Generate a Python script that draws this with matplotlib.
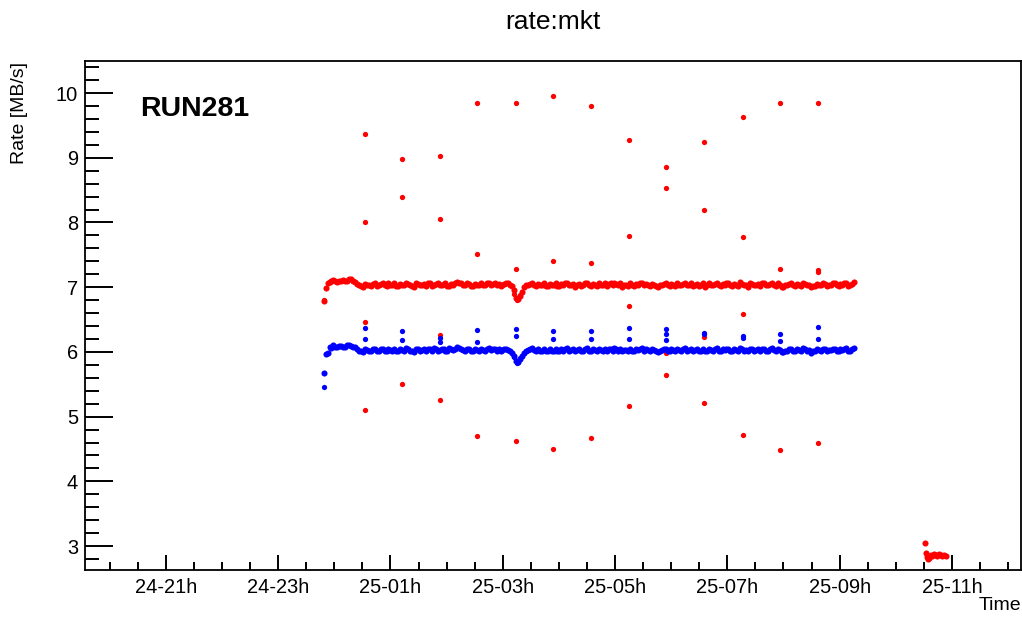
import numpy as np
import matplotlib
matplotlib.use("Agg")
import matplotlib.pyplot as plt
from matplotlib.ticker import FixedLocator, MultipleLocator, FuncFormatter

plt.rcParams['font.family'] = ['Liberation Sans', 'DejaVu Sans']

# ---------------- data (time in hours since 24-00h) ----------------
t_start = 23.81
t_step = 0.07

# readings on the regular sampling grid
red_a = [
    6.78, 7.06, 7.09, 7.10, 7.09, 7.11, 7.10, 7.12, 7.08, 7.03,
    7.01, 7.04, 7.02, 7.06, 7.03, 7.07, 7.02, 7.04, 7.06, 7.02,
    7.04, 7.07, 7.03, 7.01, 7.05, 7.04, 7.02, 7.06, 7.03, 7.07,
    7.04, 7.06, 7.02, 7.04, 7.08, 7.06, 7.03, 7.05, 7.02, 7.04,
    7.06, 7.03, 7.07, 7.05, 7.03, 7.02, 7.05, 7.07, 7.02, 6.84,
    6.87, 7.00, 7.04, 7.07, 7.02, 7.04, 7.06, 7.02, 7.04, 7.06,
    7.02, 7.04, 7.07, 7.03, 7.01, 7.05, 7.04, 7.07, 7.02, 7.04,
    7.06, 7.03, 7.02, 7.06, 7.07, 7.03, 7.01, 7.04, 7.06, 7.02,
    7.04, 7.07, 7.05, 7.02, 7.04, 7.00, 7.04, 7.06, 7.02, 7.04,
    7.06, 7.03, 7.07, 7.04, 7.02, 7.05, 7.04, 7.01, 7.06, 7.03,
    7.07, 7.02, 7.04, 7.06, 7.02, 7.04, 7.08, 7.03, 7.01, 7.05,
    7.04, 7.02, 7.06, 7.03, 7.07, 7.02, 7.04, 7.00, 7.03, 7.06,
    7.02, 7.04, 7.07, 7.03, 7.00, 7.02, 7.04, 7.06, 7.02, 7.04,
    7.06, 7.02, 7.04, 7.07, 7.03, 7.08,
]
# readings half a step later
red_b = [
    6.98, 7.08, 7.11, 7.08, 7.10, 7.09, 7.12, 7.10, 7.05, 7.02,
    7.05, 7.03, 7.05, 7.02, 7.05, 7.03, 7.06, 7.03, 7.02, 7.05,
    7.03, 7.05, 7.02, 7.06, 7.03, 7.05, 7.06, 7.02, 7.05, 7.03,
    7.05, 7.02, 7.05, 7.06, 7.07, 7.04, 7.06, 7.02, 7.05, 7.03,
    7.04, 7.06, 7.04, 7.06, 7.05, 7.04, 7.06, 7.04, 6.95, 6.82,
    6.93, 7.03, 7.05, 7.04, 7.05, 7.03, 7.02, 7.05, 7.03, 7.02,
    7.05, 7.06, 7.03, 7.05, 7.04, 7.02, 7.06, 7.03, 7.05, 7.02,
    7.04, 7.06, 7.05, 7.03, 7.05, 7.06, 7.04, 7.02, 7.03, 7.05,
    7.06, 7.03, 7.04, 7.05, 7.02, 7.03, 7.05, 7.03, 7.05, 7.02,
    7.04, 7.05, 7.03, 7.06, 7.04, 7.02, 7.06, 7.03, 7.04, 7.05,
    7.03, 7.05, 7.06, 7.03, 7.05, 7.02, 7.05, 7.04, 7.06, 7.03,
    7.05, 7.06, 7.03, 7.05, 7.04, 7.06, 7.01, 7.03, 7.05, 7.03,
    7.05, 7.02, 7.05, 7.04, 7.02, 7.05, 7.03, 7.05, 7.04, 7.06,
    7.03, 7.05, 7.06, 7.02, 7.05,
]

blue_a = [
    5.67, 5.98, 6.06, 6.08, 6.09, 6.08, 6.10, 6.09, 6.07, 6.02,
    6.00, 6.03, 6.01, 6.05, 6.02, 6.04, 6.01, 6.03, 6.05, 6.01,
    6.03, 6.06, 6.02, 6.00, 6.04, 6.03, 6.01, 6.05, 6.06, 6.02,
    6.04, 6.02, 6.06, 6.03, 6.07, 6.05, 6.02, 6.04, 6.01, 6.03,
    6.05, 6.02, 6.06, 6.04, 6.02, 6.01, 6.04, 6.03, 5.99, 5.86,
    5.89, 5.99, 6.03, 6.06, 6.02, 6.01, 6.04, 6.02, 6.01, 6.05,
    6.02, 6.01, 6.06, 6.03, 6.01, 6.04, 6.02, 6.06, 6.01, 6.03,
    6.05, 6.02, 6.01, 6.04, 6.06, 6.02, 6.01, 6.03, 6.05, 6.01,
    6.03, 6.06, 6.04, 6.01, 6.03, 6.00, 6.03, 6.05, 6.01, 6.03,
    6.05, 6.02, 6.06, 6.03, 6.01, 6.04, 6.02, 6.01, 6.05, 6.02,
    6.06, 6.01, 6.03, 6.05, 6.01, 6.03, 6.06, 6.02, 6.01, 6.04,
    6.03, 6.01, 6.05, 6.02, 6.06, 6.01, 6.03, 6.00, 6.02, 6.05,
    6.01, 6.03, 6.06, 6.02, 5.99, 6.01, 6.03, 6.05, 6.01, 6.03,
    6.05, 6.01, 6.03, 6.06, 6.02, 6.06,
]
blue_b = [
    5.97, 6.07, 6.10, 6.07, 6.09, 6.08, 6.10, 6.08, 6.04, 6.01,
    6.04, 6.02, 6.04, 6.01, 6.04, 6.02, 6.05, 6.02, 6.01, 6.04,
    6.02, 6.04, 6.01, 6.05, 6.02, 6.04, 6.05, 6.01, 6.04, 6.03,
    6.04, 6.01, 6.04, 6.05, 6.06, 6.03, 6.05, 6.01, 6.04, 6.02,
    6.03, 6.05, 6.03, 6.05, 6.04, 6.03, 6.05, 6.02, 5.93, 5.84,
    5.94, 6.02, 6.04, 6.03, 6.04, 6.02, 6.01, 6.04, 6.02, 6.01,
    6.04, 6.05, 6.02, 6.04, 6.03, 6.01, 6.05, 6.02, 6.04, 6.01,
    6.03, 6.05, 6.04, 6.02, 6.04, 6.05, 6.03, 6.01, 6.02, 6.04,
    6.05, 6.02, 6.03, 6.04, 6.01, 6.02, 6.04, 6.02, 6.04, 6.01,
    6.03, 6.04, 6.02, 6.05, 6.03, 6.01, 6.05, 6.02, 6.03, 6.04,
    6.02, 6.04, 6.05, 6.02, 6.04, 6.01, 6.04, 6.03, 6.05, 6.02,
    6.04, 6.05, 6.02, 6.04, 6.03, 6.05, 6.00, 6.02, 6.04, 6.02,
    6.04, 6.01, 6.04, 6.03, 6.01, 6.04, 6.02, 6.04, 6.03, 6.05,
    6.02, 6.04, 6.05, 6.01, 6.04,
]

# periodic outlier readings (time, value)
red_out_t = [
    23.82,
    24.54, 24.54, 24.54, 24.54,
    25.20, 25.20, 25.20,
    25.875, 25.875, 25.875, 25.875,
    26.55, 26.55, 26.55,
    27.20, 27.23, 27.23, 27.23, 27.25, 27.27, 27.30,
    27.89, 27.89, 27.89,
    28.58, 28.58, 28.58,
    29.24, 29.24, 29.24, 29.24,
    29.915, 29.915, 29.915, 29.915,
    30.59, 30.59, 30.59, 30.59,
    31.27, 31.27, 31.27, 31.27,
    31.94, 31.94, 31.94,
    32.62, 32.62, 32.62, 32.62,
]
red_out_v = [
    6.80,
    9.37, 8.01, 6.46, 5.10,
    8.98, 8.39, 5.50,
    9.03, 8.05, 6.26, 5.26,
    9.85, 7.51, 4.70,
    6.90, 9.85, 7.28, 4.63, 6.80, 6.83, 6.88,
    9.96, 7.40, 4.50,
    9.80, 7.38, 4.67,
    9.28, 7.79, 6.71, 5.17,
    8.86, 8.53, 5.98, 5.65,
    9.25, 8.20, 6.23, 5.21,
    9.63, 7.77, 6.58, 4.72,
    9.84, 7.28, 4.49,
    9.85, 7.27, 7.24, 4.60,
]

blue_out_t = [
    23.81,
    24.54, 24.54,
    25.20, 25.20,
    25.875, 25.875,
    26.55, 26.55,
    27.20, 27.23, 27.23, 27.25, 27.27, 27.30,
    27.89, 27.89,
    28.58, 28.58,
    29.24, 29.24,
    29.915, 29.915, 29.915,
    30.59, 30.59,
    31.27, 31.27,
    31.94, 31.94,
    32.62, 32.62,
]
blue_out_v = [
    5.45,
    6.37, 6.20,
    6.32, 6.18,
    6.21, 6.15,
    6.34, 6.16,
    5.92, 6.35, 6.25, 5.83, 5.86, 5.90,
    6.33, 6.20,
    6.33, 6.20,
    6.37, 6.20,
    6.35, 6.28, 6.18,
    6.29, 6.27,
    6.24, 6.21,
    6.28, 6.17,
    6.38, 6.20,
]

# late run segment
tail_t = [34.52, 34.53, 34.55, 34.57, 34.59, 34.62, 34.65, 34.68, 34.71,
          34.74, 34.77, 34.80, 34.83, 34.86, 34.89]
tail_v = [3.04, 2.89, 2.83, 2.80, 2.82, 2.86, 2.85, 2.88, 2.86,
          2.85, 2.87, 2.86, 2.84, 2.86, 2.85]

major_hours = [21, 23, 25, 27, 29, 31, 33, 35]

# ---------------- figure ----------------
W, H = 1022, 617
fig = plt.figure(figsize=(W / 100, H / 100), dpi=100)
ax = fig.add_axes([85 / W, 1 - 570 / H, (1021 - 85) / W, (570 - 61) / H])

t_ra = t_start + t_step * np.arange(len(red_a))
t_rb = t_start + t_step / 2 + t_step * np.arange(len(red_b))
t_ba = t_start + t_step * np.arange(len(blue_a))
t_bb = t_start + t_step / 2 + t_step * np.arange(len(blue_b))

kw = dict(linestyle='none', marker='o', markersize=3.8, markeredgewidth=0)
kw_main = dict(kw, markersize=4.4)
ax.plot(t_ra, red_a, color='#ff0000', **kw_main)
ax.plot(t_rb, red_b, color='#ff0000', **kw_main)
ax.plot(red_out_t, red_out_v, color='#ff0000', **kw)
ax.plot(t_ba, blue_a, color='#0000ff', **kw_main)
ax.plot(t_bb, blue_b, color='#0000ff', **kw_main)
ax.plot(blue_out_t, blue_out_v, color='#0000ff', **kw)
ax.plot(tail_t, tail_v, color='#ff0000', **kw_main)

ax.set_xlim(19.56, 36.23)
ax.set_ylim(2.63, 10.495)

def fmt_hour(h, pos=None):
    h = int(round(h))
    return "%02d-%02dh" % (24 + h // 24, h % 24)

ax.xaxis.set_major_locator(FixedLocator(major_hours))
ax.xaxis.set_major_formatter(FuncFormatter(fmt_hour))
ax.xaxis.set_minor_locator(MultipleLocator(0.5))
ax.yaxis.set_major_locator(MultipleLocator(1))
ax.yaxis.set_minor_locator(MultipleLocator(0.2))

ax.tick_params(axis='both', which='both', direction='in', labelsize=14.4,
               width=1.4, colors='black')
ax.tick_params(axis='x', which='major', length=11, pad=6)
ax.tick_params(axis='x', which='minor', length=6)
ax.tick_params(axis='y', which='major', length=20, pad=5)
ax.tick_params(axis='y', which='minor', length=10)
ax.tick_params(top=False, right=False)

for s in ax.spines.values():
    s.set_linewidth(1.3)

fig.text(553 / W, 1 - 22 / H, "rate:mkt", ha='center', va='center', fontsize=19)
fig.text(20 / W, 1 - 62 / H, "Rate [MB/s]", ha='center', va='top',
         rotation=90, fontsize=14)
fig.text(1021 / W, 1 - 606 / H, "Time", ha='right', va='center', fontsize=14)
fig.text(140 / W, 1 - 109 / H, "RUN281", ha='left', va='center',
         fontsize=20.5, fontweight='bold')

fig.savefig("out.png", dpi=100)
